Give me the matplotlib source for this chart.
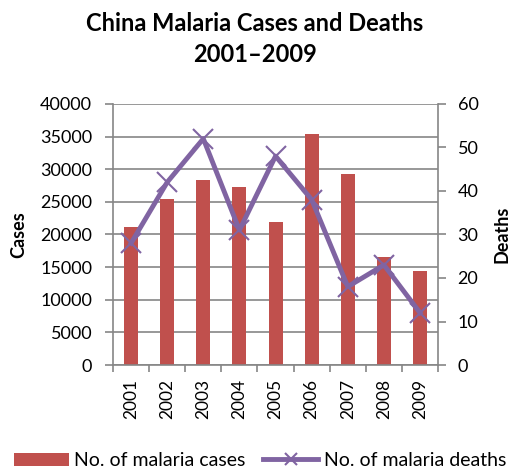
import numpy as np
import matplotlib.pyplot as plt
from matplotlib.ticker import FixedLocator

plt.rcParams['font.family'] = ['Lato', 'DejaVu Sans']

years = ['2001', '2002', '2003', '2004', '2005', '2006', '2007', '2008', '2009']
cases = [21200, 25400, 28400, 27200, 21900, 35400, 29300, 16500, 14400]
deaths = [28, 42, 52, 31, 48, 38, 18, 23, 12]

bar_color = '#C0504D'
line_color = '#8064A2'
grid_color = '#868686'

fig = plt.figure(figsize=(5.1, 4.68), dpi=100)
ax = fig.add_axes([0.2216, 0.220, 0.6374, 0.558])
x = np.arange(len(years))

ax.bar(x, cases, width=0.39, color=bar_color, zorder=2, label='No. of malaria cases')
ax.set_xlim(-0.5, len(years) - 0.5)
ax.set_ylim(0, 40000)
ax.set_yticks(np.arange(0, 40001, 5000))
ax.yaxis.grid(True, color=grid_color, linewidth=1.2, zorder=0)
ax.set_axisbelow(True)
ax.set_xticks(x)
ax.set_xticklabels(years, rotation=90)
ax.xaxis.set_minor_locator(FixedLocator(np.arange(-0.5, len(years), 1.0)))
ax.tick_params(axis='x', which='major', length=0, pad=10, labelsize=12.5)
ax.tick_params(axis='x', which='minor', length=5, color=grid_color, width=1.2)
ax.tick_params(axis='y', length=6, color=grid_color, width=1.2, pad=9, labelsize=13)
for s in ['top', 'right']:
    ax.spines[s].set_visible(False)
for s in ['left', 'bottom']:
    ax.spines[s].set_color(grid_color)
    ax.spines[s].set_linewidth(1.2)
ax.set_ylabel('Cases', fontsize=13, fontweight='bold')
ax.yaxis.set_label_coords(-0.265, 0.5)

ax2 = ax.twinx()
ax2.plot(x, deaths, color=line_color, linewidth=3.5, marker='x', markersize=14,
         markeredgewidth=1.5, zorder=3, label='No. of malaria deaths')
ax2.set_ylim(0, 60)
ax2.set_yticks(np.arange(0, 61, 10))
ax2.tick_params(axis='y', length=6, color=grid_color, width=1.2, pad=8, labelsize=13)
for s in ['top', 'left', 'bottom']:
    ax2.spines[s].set_visible(False)
ax2.spines['right'].set_color(grid_color)
ax2.spines['right'].set_linewidth(1.2)
ax2.set_ylabel('Deaths', fontsize=13, fontweight='bold')
ax2.yaxis.set_label_coords(1.17, 0.5)

fig.suptitle('China Malaria Cases and Deaths\n2001\u20132009', fontsize=17,
             fontweight='bold', y=0.975, linespacing=1.45)

h1, l1 = ax.get_legend_handles_labels()
h2, l2 = ax2.get_legend_handles_labels()
leg = fig.legend(h1 + h2, l1 + l2, loc='lower center', ncol=2, frameon=False,
                 fontsize=14, bbox_to_anchor=(0.51, -0.04), handlelength=2.8,
                 columnspacing=0.9, handletextpad=0.3)
for line in leg.get_lines():
    line.set_markersize(9)

fig.savefig('out.png', dpi=100)
